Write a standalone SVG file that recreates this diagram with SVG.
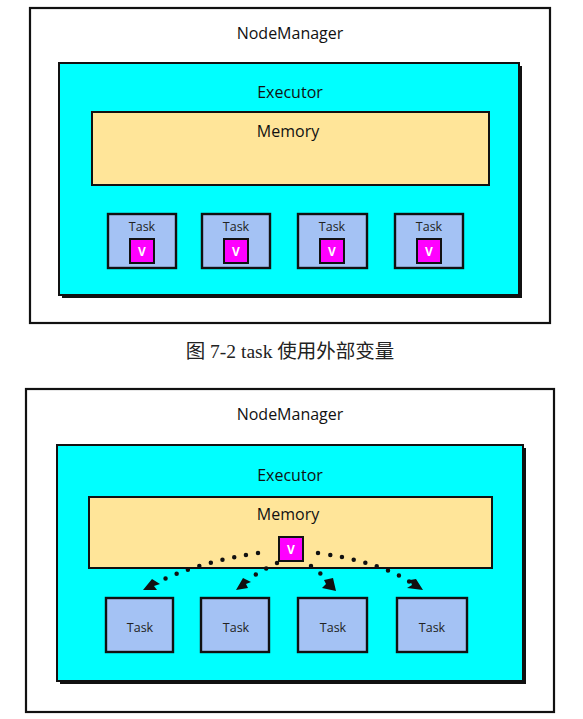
<svg xmlns="http://www.w3.org/2000/svg" width="583" height="719" viewBox="0 0 583 719">
<defs>
<style>
.frame{fill:#fff;stroke:#111;stroke-width:2.2}
.exec{fill:#00FFFF;stroke:#111;stroke-width:2}
.shadow{fill:#111}
.mem{fill:#FFE599;stroke:#111;stroke-width:2}
.task{fill:#A4C2F4;stroke:#111;stroke-width:2.4}
.v{fill:#FF00FF;stroke:#111;stroke-width:2}
.lbl{font-family:"Open Sans","Liberation Sans",sans-serif;fill:#111;text-anchor:middle}
.big{font-size:16px}
.small{font-size:12.5px;fill:#222}
.vt{font-family:"Open Sans","Liberation Sans",sans-serif;font-size:12px;font-weight:bold;fill:#fff;text-anchor:middle}
.cap{font-family:"Liberation Serif","Noto Sans CJK SC",serif;font-size:19.5px;fill:#222;text-anchor:middle}
.dot{fill:none;stroke:#111;stroke-width:4.5;stroke-linecap:round;stroke-dasharray:0 12}
</style>
</defs>

<g id="diagram1">
<g id="nm1">
<rect class="frame" x="30" y="8" width="520" height="315"/>
<text class="lbl big" x="290" y="39">NodeManager</text>
</g>
<g id="exec1">
<rect class="shadow" x="62" y="66" width="460" height="232"/>
<rect class="exec" x="59" y="63" width="460" height="232"/>
<text class="lbl big" x="290" y="98">Executor</text>
</g>
<g id="mem1">
<rect class="mem" x="92" y="112" width="397" height="73"/>
<text class="lbl big" x="288" y="137">Memory</text>
</g>
<g id="task1a">
<rect class="task" x="108" y="214" width="68" height="54"/>
<text class="lbl small" x="142" y="231">Task</text>
<rect class="v" x="130" y="239" width="24" height="24"/>
<text class="vt" x="142" y="256">V</text>
</g>
<g id="task1b">
<rect class="task" x="202" y="214" width="68" height="54"/>
<text class="lbl small" x="236" y="231">Task</text>
<rect class="v" x="224" y="239" width="24" height="24"/>
<text class="vt" x="236" y="256">V</text>
</g>
<g id="task1c">
<rect class="task" x="298" y="214" width="69" height="54"/>
<text class="lbl small" x="332" y="231">Task</text>
<rect class="v" x="320" y="239" width="24" height="24"/>
<text class="vt" x="332" y="256">V</text>
</g>
<g id="task1d">
<rect class="task" x="395" y="214" width="68" height="54"/>
<text class="lbl small" x="429" y="231">Task</text>
<rect class="v" x="417" y="239" width="24" height="24"/>
<text class="vt" x="429" y="256">V</text>
</g>
</g>

<text id="caption" class="cap" x="290" y="358">图 7-2 task 使用外部变量</text>

<g id="diagram2">
<g id="nm2">
<rect class="frame" x="26" y="389" width="528" height="323"/>
<text class="lbl big" x="290" y="420">NodeManager</text>
</g>
<g id="exec2">
<rect class="shadow" x="60" y="448" width="466" height="236"/>
<rect class="exec" x="57" y="445" width="466" height="236"/>
<text class="lbl big" x="290" y="481">Executor</text>
</g>
<g id="mem2">
<rect class="mem" x="89" y="497" width="403" height="71"/>
<text class="lbl big" x="288" y="520">Memory</text>
</g>
<g id="v2">
<rect class="v" x="279" y="537" width="24" height="24"/>
<text class="vt" x="291" y="554">V</text>
</g>
<g id="task2a">
<rect class="task" x="106" y="598" width="67" height="54"/>
<text class="lbl small" x="140" y="632">Task</text>
</g>
<g id="task2b">
<rect class="task" x="201" y="598" width="68" height="54"/>
<text class="lbl small" x="236" y="632">Task</text>
</g>
<g id="task2c">
<rect class="task" x="298" y="598" width="69" height="54"/>
<text class="lbl small" x="333" y="632">Task</text>
</g>
<g id="task2d">
<rect class="task" x="397" y="598" width="70" height="54"/>
<text class="lbl small" x="432" y="632">Task</text>
</g>
<g id="connectors">
<path class="dot" d="M258,553 Q200,562 160,581" />
<path class="dot" d="M277,563 Q258,572 248,580" />
<path class="dot" d="M311,566 Q320,572 326,580" />
<path class="dot" d="M318,553 Q380,562 410,582" />
<path d="M152,579 L143,590 L157,590 L154,586 L160,584 z" fill="#111"/>
<path d="M243,578 L236,590 L248,588 L246,584 L251,582 z" fill="#111"/>
<path d="M324,580 L326,584 L322,588 L336,591 L333,578 z" fill="#111"/>
<path d="M410,580 L412,585 L407,588 L423,590 L416,579 z" fill="#111"/>
</g>
</g>
</svg>
